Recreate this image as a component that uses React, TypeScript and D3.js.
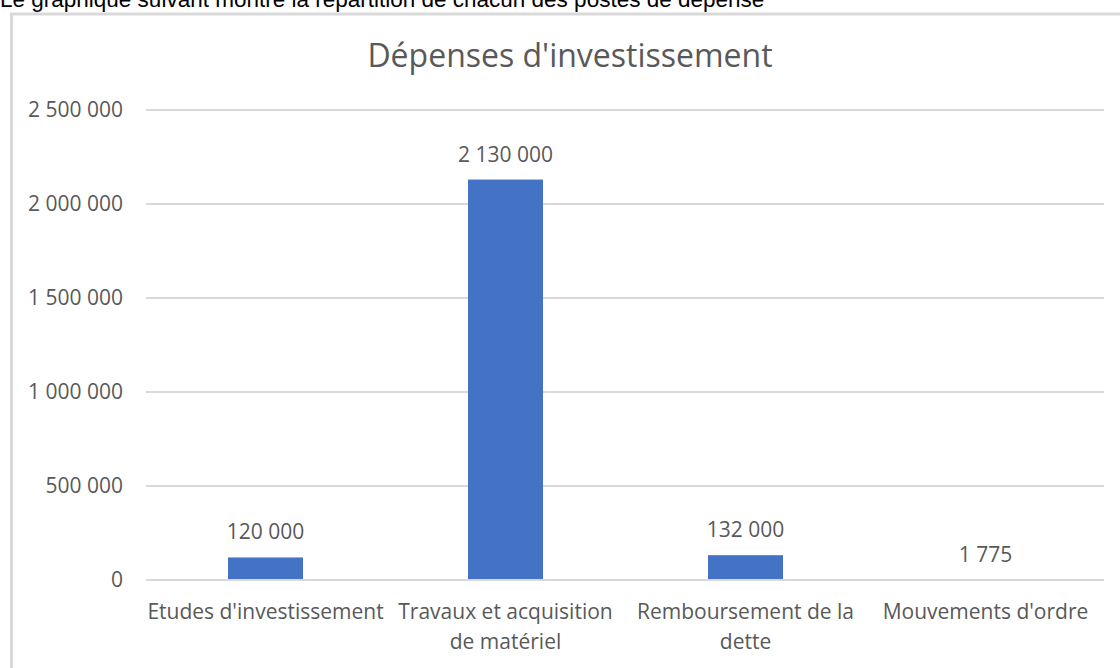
import React from "react";
import * as d3 from "d3";

const categories: string[][] = [
  ["Etudes d'investissement"],
  ["Travaux et acquisition", "de matériel"],
  ["Remboursement de la", "dette"],
  ["Mouvements d'ordre"],
];
const categoryKeys = ["etudes", "travaux", "remboursement", "mouvements"];
const values = [120000, 2130000, 132000, 1775];
const yTicks = [0, 500000, 1000000, 1500000, 2000000, 2500000];
const title = "Dépenses d'investissement";
const introText = "Le graphique suivant montre la répartition de chacun des postes de dépense";

const W = 1120;
const H = 668;
const font = "'Open Sans', sans-serif";
const textColor = "#595959";

const fmt = (v: number) => d3.format(",")(v).replace(/,/g, " ");

export default function App() {
  const x = d3.scaleBand<string>().domain(categoryKeys).range([145.5, 1105.5]).paddingInner(0.6875).paddingOuter(0.34375);
  const y = d3.scaleLinear().domain([0, 2500000]).range([580, 110]);
  const bw = x.bandwidth();

  return (
    <svg width={W} height={H} style={{ position: "absolute", left: 0, top: 0, background: "#fff" }}>
      <text x={0} y={7} fontFamily="'Liberation Sans', Arial, sans-serif" fontSize={22.5} fill="#000">
        {introText}
      </text>
      <rect x={11.5} y={14} width={W + 20} height={H + 20} fill="#fff" stroke="#d9d9d9" strokeWidth={3} />
      <text x={570} y={67} textAnchor="middle" fontFamily={font} fontSize={32} fill={textColor}>
        {title}
      </text>
      {yTicks.map((t) => (
        <g key={t}>
          <line x1={146} x2={1104} y1={y(t)} y2={y(t)} stroke="#d9d9d9" strokeWidth={2} />
          <text x={123} y={y(t) + 7} textAnchor="end" fontFamily={font} fontSize={21} fill={textColor}>
            {fmt(t)}
          </text>
        </g>
      ))}
      {categoryKeys.map((k, i) => {
        const x0 = x(k) as number;
        const top = y(values[i]);
        return (
          <g key={k}>
            <rect x={x0} y={top} width={bw} height={y(0) - top - 1} fill="#4472C4" />
            <text x={x0 + bw / 2} y={top - 18} textAnchor="middle" fontFamily={font} fontSize={21} fill={textColor}>
              {fmt(values[i])}
            </text>
            {categories[i].map((line, j) => (
              <text key={j} x={x0 + bw / 2} y={619 + j * 30} textAnchor="middle" fontFamily={font} fontSize={21} fill={textColor}>
                {line}
              </text>
            ))}
          </g>
        );
      })}
    </svg>
  );
}
